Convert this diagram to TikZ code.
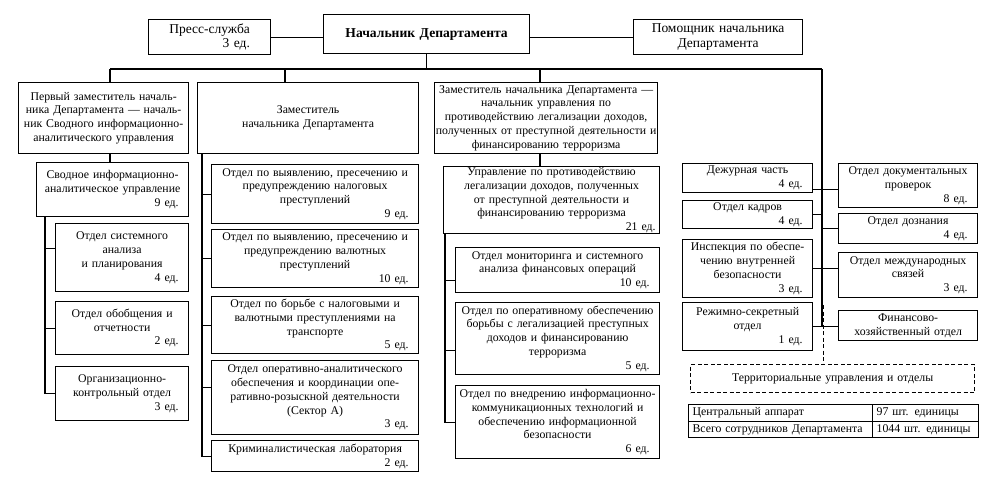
\documentclass[tikz,border=0pt]{standalone}
\usepackage{fontspec}
\setmainfont{Liberation Serif}
\tikzset{
  bx/.style={draw, line width=1.2pt, align=center, inner xsep=-7pt, inner ysep=0pt,
    font=\fontsize{11.8}{13.8}\selectfont},
  ln/.style={line width=1.2pt},
  dsh/.style={line width=1.2pt, dash pattern=on 4pt off 2.5pt},
  big/.style={font=\fontsize{13.5}{15.5}\selectfont},
}
\newcommand\obox[7][]{%
  \pgfmathsetmacro\obw{#4-#2}%
  \pgfmathsetmacro\obh{#5-#3}%
  \pgfmathsetmacro\otw{#4-#2+14}%
  \node[bx,anchor=north west,minimum width=\obw pt,minimum height=\obh pt,text width=\otw pt,#1] (#6) at (#2,#3) {#7};}
\newcommand\cnt[2][17pt]{\\\hspace*{\fill}#2\kern#1}
\begin{document}
\begin{tikzpicture}[x=1pt,y=-1pt]
\useasboundingbox (0,0) rectangle (996,490);
% top row
\obox[big]{148}{19}{270}{54}{press}{\begin{tabular}{@{}c@{}}Пресс-служба\\[-1.5pt]\hfill 3 ед.\end{tabular}}
\obox[font=\fontsize{13.6}{15}\selectfont\bfseries]{323}{14}{529}{53}{head}{Начальник Департамента}
\obox[big]{633}{19}{802}{54}{asst}{Помощник начальника\\Департамента}
% deputies
\obox{18}{82}{188}{153}{dep1}{Первый заместитель началь-\\ника Департамента — началь-\\ник Сводного информационно-\\аналитического управления}
\obox{197}{82}{418}{153}{dep2}{Заместитель\\начальника Департамента}
\obox{434}{82}{657}{153}{dep3}{Заместитель начальника Департамента —\\начальник управления по\\противодействию легализации доходов,\\полученных от преступной деятельности и\\финансированию терроризма}
% left column
\obox{36}{162}{188}{216}{svod}{Сводное информационно-\\аналитическое управление\cnt{9 ед.}}
\obox{55}{223}{188}{291}{l1}{Отдел системного\\анализа\\и планирования\cnt{4 ед.}}
\obox{55}{301}{188}{354}{l2}{Отдел обобщения и\\отчетности\cnt{2 ед.}}
\obox{55}{366}{188}{420}{l3}{Организационно-\\контрольный отдел\cnt{3 ед.}}
% middle column
\obox{211}{164}{418}{223}{m1}{Отдел по выявлению, пресечению и\\предупреждению налоговых\\преступлений\cnt{9 ед.}}
\obox{211}{229}{418}{287}{m2}{Отдел по выявлению, пресечению и\\предупреждению валютных\\преступлений\cnt{10 ед.}}
\obox{211}{296}{418}{353}{m3}{Отдел по борьбе с налоговыми и\\валютными преступлениями на\\транспорте\cnt{5 ед.}}
\obox{211}{360}{418}{434}{m4}{Отдел оперативно-аналитического\\обеспечения и координации опе-\\ративно-розыскной деятельности\\(Сектор А)\cnt{3 ед.}}
\obox{211}{440}{418}{471}{m5}{Криминалистическая лаборатория\cnt{2 ед.}}
% third column
\obox{443}{166}{659}{233}{upr}{Управление по противодействию\\легализации доходов, полученных\\от преступной деятельности и\\финансированию терроризма\cnt[11pt]{21 ед.}}
\obox{455}{247}{659}{292}{r1}{Отдел мониторинга и системного\\анализа финансовых операций\cnt{10 ед.}}
\obox{455}{302}{659}{374}{r2}{Отдел по оперативному обеспечению\\борьбы с легализацией преступных\\доходов и финансированию\\терроризма\cnt{5 ед.}}
\obox{455}{385}{659}{458}{r3}{Отдел по внедрению информационно-\\коммуникационных технологий и\\обеспечению информационной\\безопасности\cnt{6 ед.}}
% right column
\obox{682}{163}{812}{192}{s1}{Дежурная часть\cnt{4 ед.}}
\obox{682}{200}{812}{228}{s2}{Отдел кадров\cnt{4 ед.}}
\obox{682}{239}{812}{297}{s3}{Инспекция по обеспе-\\чению внутренней\\безопасности\cnt{3 ед.}}
\obox{682}{302}{812}{350}{s4}{Режимно-секретный\\отдел\cnt{1 ед.}}
\obox{838}{163}{977}{207}{t1}{Отдел документальных\\проверок\cnt{8 ед.}}
\obox{838}{213}{977}{243}{t2}{Отдел дознания\cnt{4 ед.}}
\obox{838}{252}{977}{297}{t3}{Отдел международных\\связей\cnt{3 ед.}}
\obox{838}{310}{977}{340}{t4}{Финансово-\\хозяйственный отдел}
\obox[dsh]{690}{364}{974}{392}{terr}{Территориальные управления и отделы}
% table
\obox[align=left,inner xsep=4pt,text width=176pt]{688}{404}{872}{421}{ca}{Центральный аппарат}
\obox[align=left,inner xsep=4pt,text width=98pt]{872}{404}{978}{421}{cb}{97 шт. единицы}
\obox[align=left,inner xsep=4pt,text width=176pt]{688}{421}{872}{437}{cc}{Всего сотрудников Департамента}
\obox[align=left,inner xsep=4pt,text width=98pt]{872}{421}{978}{437}{cd}{1044 шт. единицы}
% connectors: top
\draw[ln] (press.east) -- (press.east -| head.west);
\draw[ln] (head.east |- asst.west) -- (asst.west);
\coordinate (busL) at (110,69);
\coordinate (b2) at (285,69);
\coordinate (b3) at (540,69);
\coordinate (busR) at (822,69);
\draw[ln] (head.south) -- (head.south |- busL);
\draw[ln] (busL) -- (busR);
\draw[ln] (busL) -- (busL |- dep1.north);
\draw[ln] (b2) -- (b2 |- dep2.north);
\draw[ln] (b3) -- (b3 |- dep3.north);
\draw[ln] (busR) -- (busR |- s4.east);
% left
\draw[ln] (dep1.south -| busL) -- (svod.north -| busL);
\coordinate (ls) at (45,0);
\coordinate (l1c) at ([yshift=9pt]l1.west);
\draw[ln] (svod.south -| ls) |- (l3.west);
\draw[ln] (ls |- l1c) -- (l1c);
\draw[ln] (ls |- l2.west) -- (l2.west);
% middle
\coordinate (ms) at (202,0);
\coordinate (m4c) at ([yshift=10pt]m4.west);
\draw[ln] (dep2.south -| ms) |- (m5.west);
\draw[ln] (ms |- m1.west) -- (m1.west);
\draw[ln] (ms |- m2.west) -- (m2.west);
\draw[ln] (ms |- m3.west) -- (m3.west);
\draw[ln] (ms |- m4c) -- (m4c);
% third
\draw[ln] (dep3.south -| b3) -- (upr.north -| b3);
\coordinate (rs) at (445,0);
\coordinate (r1c) at ([yshift=-10.5pt]r1.west);
\coordinate (r2c) at ([yshift=-12pt]r2.west);
\draw[ln] (upr.south -| rs) |- (r3.west);
\draw[ln] (rs |- r1c) -- (r1c);
\draw[ln] (rs |- r2c) -- (r2c);
% right
\coordinate (c1) at ([yshift=-11.5pt]s1.east);
\draw[ln] (c1) -- (c1 -| t1.west);
\draw[ln] (s2.east) -- (s2.east -| busR);
\draw[ln] (t2.west -| busR) -- (t2.west);
\draw[ln] (s3.east) -- (s3.east -| t3.west);
\draw[ln] (s4.east) -- (s4.east -| t4.west);
\coordinate (dstart) at (823.5,305);
\draw[dsh] (dstart) -- (dstart |- terr.north);
\end{tikzpicture}
\end{document}
